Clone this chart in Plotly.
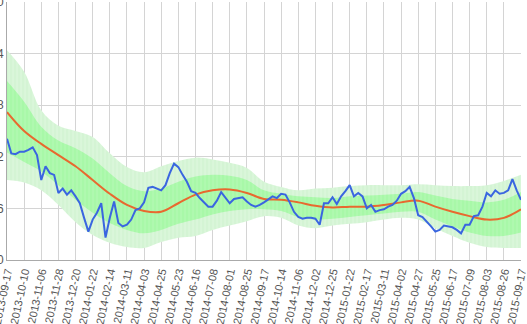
import plotly.graph_objects as go

# Date labels shown along the x axis (one every 4 samples)
date_labels = [
    "2013-09-17", "2013-10-10", "2013-11-06", "2013-11-28", "2013-12-20",
    "2014-01-22", "2014-02-14", "2014-03-11", "2014-04-03", "2014-04-25",
    "2014-05-23", "2014-06-16", "2014-07-08", "2014-08-01", "2014-08-25",
    "2014-09-17", "2014-10-14", "2014-11-06", "2014-12-02", "2014-12-25",
    "2015-01-22", "2015-02-17", "2015-03-11", "2015-04-02", "2015-04-27",
    "2015-05-25", "2015-06-17", "2015-07-09", "2015-08-03", "2015-08-26",
    "2015-09-17",
]
y_ticks = [0.0, 0.6, 1.2, 1.8, 2.4, 3.0]

# Observed value (blue line), 4 samples per labelled interval
price = [
    1.41, 1.24, 1.23, 1.26, 1.26, 1.28, 1.31, 1.22, 0.93, 1.09,
    1.01, 0.99, 0.78, 0.83, 0.76, 0.81, 0.74, 0.66, 0.49, 0.33,
    0.47, 0.55, 0.66, 0.26, 0.49, 0.68, 0.43, 0.39, 0.41, 0.47,
    0.58, 0.60, 0.67, 0.84, 0.85, 0.83, 0.81, 0.87, 1.01, 1.12,
    1.08, 0.99, 0.91, 0.80, 0.78, 0.72, 0.67, 0.62, 0.62, 0.69,
    0.79, 0.72, 0.66, 0.71, 0.72, 0.73, 0.68, 0.64, 0.62, 0.64,
    0.67, 0.70, 0.74, 0.72, 0.77, 0.76, 0.67, 0.56, 0.50, 0.48,
    0.49, 0.49, 0.48, 0.41, 0.66, 0.66, 0.73, 0.65, 0.74, 0.80,
    0.87, 0.74, 0.78, 0.74, 0.60, 0.64, 0.56, 0.58, 0.59, 0.62,
    0.64, 0.69, 0.77, 0.80, 0.85, 0.72, 0.52, 0.50, 0.45, 0.39,
    0.33, 0.35, 0.40, 0.39, 0.38, 0.35, 0.31, 0.41, 0.41, 0.51,
    0.52, 0.62, 0.78, 0.74, 0.81, 0.77, 0.78, 0.81, 0.94, 0.81,
    0.70,
]

# Smoothed mean and band edges, one value per labelled date
mean = [
    1.72, 1.50, 1.35, 1.22, 1.09, 0.93, 0.77, 0.64, 0.57, 0.56,
    0.66, 0.76, 0.81, 0.82, 0.78, 0.71, 0.70, 0.67, 0.63, 0.61,
    0.62, 0.62, 0.64, 0.67, 0.69, 0.62, 0.56, 0.51, 0.47, 0.49,
    0.59,
]
outer_hi = [
    2.44, 2.19, 1.74, 1.56, 1.50, 1.43, 1.24, 1.08, 1.02, 1.09,
    1.15, 1.19, 1.17, 1.13, 1.07, 0.91, 0.85, 0.81, 0.83, 0.84,
    0.86, 0.87, 0.87, 0.87, 0.88, 0.87, 0.86, 0.86, 0.87, 0.92,
    0.99,
]
inner_hi = [
    2.08, 1.84, 1.55, 1.39, 1.30, 1.18, 1.01, 0.86, 0.80, 0.83,
    0.91, 0.97, 0.99, 0.98, 0.93, 0.81, 0.77, 0.74, 0.73, 0.72,
    0.74, 0.75, 0.76, 0.77, 0.79, 0.75, 0.71, 0.69, 0.67, 0.70,
    0.79,
]
inner_lo = [
    1.25, 1.14, 1.03, 0.87, 0.70, 0.55, 0.43, 0.35, 0.31, 0.35,
    0.42, 0.47, 0.53, 0.57, 0.59, 0.59, 0.57, 0.50, 0.47, 0.48,
    0.50, 0.52, 0.54, 0.56, 0.56, 0.47, 0.39, 0.32, 0.28, 0.28,
    0.32,
]
outer_lo = [
    0.93, 0.90, 0.81, 0.64, 0.44, 0.29, 0.20, 0.15, 0.14, 0.21,
    0.26, 0.28, 0.35, 0.40, 0.45, 0.51, 0.49, 0.40, 0.37, 0.40,
    0.42, 0.44, 0.47, 0.49, 0.47, 0.37, 0.28, 0.20, 0.15, 0.14,
    0.14,
]

STEP = 4
x_price = list(range(len(price)))
x_band = [i * STEP for i in range(len(date_labels))]

OUTER_BG = "rgb(212,244,212)"
OUTER_FG = "rgb(228,249,228)"
INNER_BG = "rgb(168,248,168)"
INNER_FG = "rgb(188,251,188)"

fig = go.Figure()

# Outer band
fig.add_trace(go.Scatter(x=x_band, y=outer_lo, mode="lines", line=dict(width=0, shape="spline"),
                         hoverinfo="skip", showlegend=False))
fig.add_trace(go.Scatter(x=x_band, y=outer_hi, mode="lines", line=dict(width=0, shape="spline"),
                         fill="tonexty", fillcolor=OUTER_BG,
                         fillpattern=dict(shape="|", size=4, solidity=0.35,
                                          fgcolor=OUTER_FG, bgcolor=OUTER_BG),
                         hoverinfo="skip", showlegend=False))
# Inner band
fig.add_trace(go.Scatter(x=x_band, y=inner_lo, mode="lines", line=dict(width=0, shape="spline"),
                         hoverinfo="skip", showlegend=False))
fig.add_trace(go.Scatter(x=x_band, y=inner_hi, mode="lines", line=dict(width=0, shape="spline"),
                         fill="tonexty", fillcolor=INNER_BG,
                         fillpattern=dict(shape="|", size=4, solidity=0.35,
                                          fgcolor=INNER_FG, bgcolor=INNER_BG),
                         hoverinfo="skip", showlegend=False))

# Mean line
fig.add_trace(go.Scatter(x=x_band, y=mean, mode="lines",
                         line=dict(color="#e8692f", width=2, shape="spline"),
                         showlegend=False))
# Observed series
fig.add_trace(go.Scatter(x=x_price, y=price, mode="lines",
                         line=dict(color="#3a66e0", width=2),
                         showlegend=False))

font_family = "Arial, Liberation Sans, sans-serif"

fig.update_layout(
    width=527, height=324, autosize=False,
    margin=dict(l=7, r=6, t=2, b=64),
    paper_bgcolor="white", plot_bgcolor="white",
    showlegend=False,
)
fig.update_xaxes(
    range=[-0.001, x_band[-1] + 0.001], automargin=False,
    tickmode="array", tickvals=x_band, ticktext=date_labels,
    tickangle=-78, tickfont=dict(family=font_family, size=11, color="#555"), ticks="",
    ticklabeloverflow="allow",
    showgrid=True, gridcolor="#d4d4d4", gridwidth=1,
    showline=True, linecolor="#aaaaaa", linewidth=1,
    zeroline=False,
)
fig.update_yaxes(
    range=[-0.0001, 3.0001], automargin=False,
    tickmode="array", tickvals=y_ticks, ticktext=[f"{v:.1f}" for v in y_ticks],
    tickfont=dict(family=font_family, size=12, color="#555"),
    ticks="", ticklabeloverflow="allow",
    showgrid=True, gridcolor="#d4d4d4", gridwidth=1,
    showline=True, linecolor="#aaaaaa", linewidth=1,
    zeroline=False,
)

fig.write_html("out.html", config={"displayModeBar": False})
